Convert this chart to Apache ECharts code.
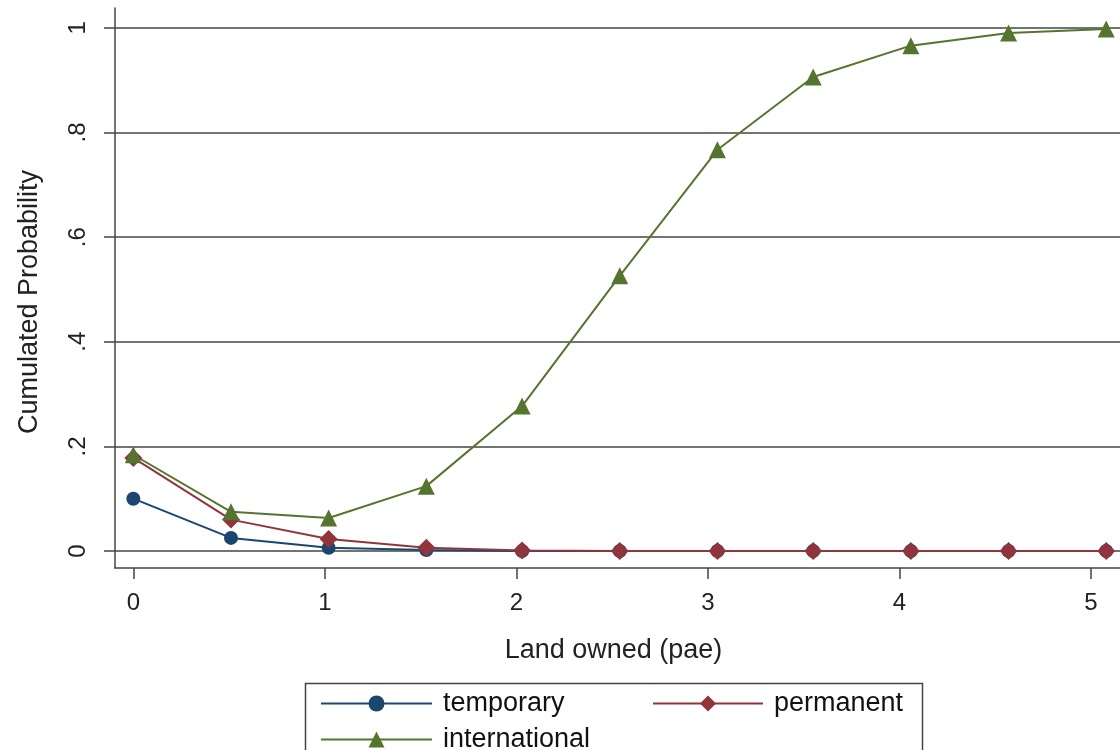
<!DOCTYPE html>
<html><head><meta charset="utf-8">
<script src="https://cdn.jsdelivr.net/npm/echarts@6/dist/echarts.min.js"></script>
<style>html,body{margin:0;padding:0;background:#fff}#c{width:1120px;height:750px}</style>
</head><body><div id="c"></div>
<script>
const xValues = [0, 0.51, 1.02, 1.53, 2.03, 2.54, 3.05, 3.55, 4.06, 4.57, 5.08];
const temporary = [0.100, 0.025, 0.006, 0.002, 0, 0, 0, 0, 0, 0, 0];
const permanent = [0.178, 0.060, 0.023, 0.006, 0.001, 0, 0, 0, 0, 0, 0];
const international = [0.184, 0.075, 0.063, 0.124, 0.277, 0.526, 0.767, 0.906, 0.966, 0.990, 0.998];
const xTicks = [0, 1, 2, 3, 4, 5];
const yTicks = [0, 0.2, 0.4, 0.6, 0.8, 1];
const yTickLabels = ['0', '.2', '.4', '.6', '.8', '1'];

const pts = arr => xValues.map((x, i) => [x, arr[i]]);
const FONT = 'Liberation Sans';
const chart = echarts.init(document.getElementById('c'), null, {renderer: 'canvas'});
const mkSeries = (name, data, color, symbol, size) => ({
  name, type: 'line', data: pts(data), symbol, symbolSize: size, showAllSymbol: true,
  lineStyle: {color, width: 2}, itemStyle: {color}, z: 3, animation: false
});
const legendText = {fontSize: 27, color: '#111', fontFamily: FONT, padding: [0, 0, 0, 6]};
chart.setOption({
  animation: false,
  textStyle: {fontFamily: FONT},
  grid: {left: 115, right: 0, top: 8, bottom: 182, containLabel: false},
  xAxis: {
    type: 'value', min: -0.0956, max: 5.152,
    name: 'Land owned (pae)', nameLocation: 'middle', nameGap: 69,
    nameTextStyle: {fontSize: 27, color: '#222', fontFamily: FONT, padding: [0, 8, 0, 0]},
    axisLine: {show: true, onZero: false, lineStyle: {color: '#444', width: 1.5}},
    axisTick: {show: true, length: 11, customValues: xTicks, lineStyle: {color: '#444', width: 1.5}},
    axisLabel: {customValues: xTicks, fontSize: 24, color: '#222', margin: 23, fontFamily: FONT},
    splitLine: {show: false}
  },
  yAxis: {
    type: 'value', min: -0.0325, max: 1.038,
    name: 'Cumulated Probability', nameLocation: 'middle', nameGap: 72, nameRotate: 90,
    nameTextStyle: {fontSize: 27, color: '#222', fontFamily: FONT, padding: [0, 28, 0, 0]},
    axisLine: {show: true, onZero: false, lineStyle: {color: '#444', width: 1.5}},
    axisTick: {show: true, length: 11, customValues: yTicks, lineStyle: {color: '#444', width: 1.5}},
    axisLabel: {customValues: yTicks, rotate: 90, fontSize: 24, color: '#222', margin: 25, fontFamily: FONT,
      formatter: v => { const i = yTicks.findIndex(t => Math.abs(t - v) < 1e-6); return i >= 0 ? yTickLabels[i] : ''; }},
    splitLine: {show: true, lineStyle: {color: '#444', width: 1.5}}
  },
  legend: [
    {data: ['temporary'], left: 320, top: 690, padding: 0, itemWidth: 111, itemHeight: 20, itemGap: 10, textStyle: legendText},
    {data: ['permanent'], left: 652, top: 690, padding: 0, itemWidth: 110, itemHeight: 20, textStyle: legendText},
    {data: ['international'], left: 320, top: 726, padding: 0, itemWidth: 111, itemHeight: 20, textStyle: legendText}
  ],
  graphic: [{type: 'rect', shape: {x: 305.5, y: 683.5, width: 617, height: 80},
    style: {fill: 'none', stroke: '#444', lineWidth: 1.5}, z: -1}],
  series: [
    mkSeries('temporary', temporary, '#1a476f', 'circle', 14),
    mkSeries('permanent', permanent, '#90353b', 'diamond', 18),
    mkSeries('international', international, '#55752f', 'triangle', 17)
  ]
});
</script></body></html>
